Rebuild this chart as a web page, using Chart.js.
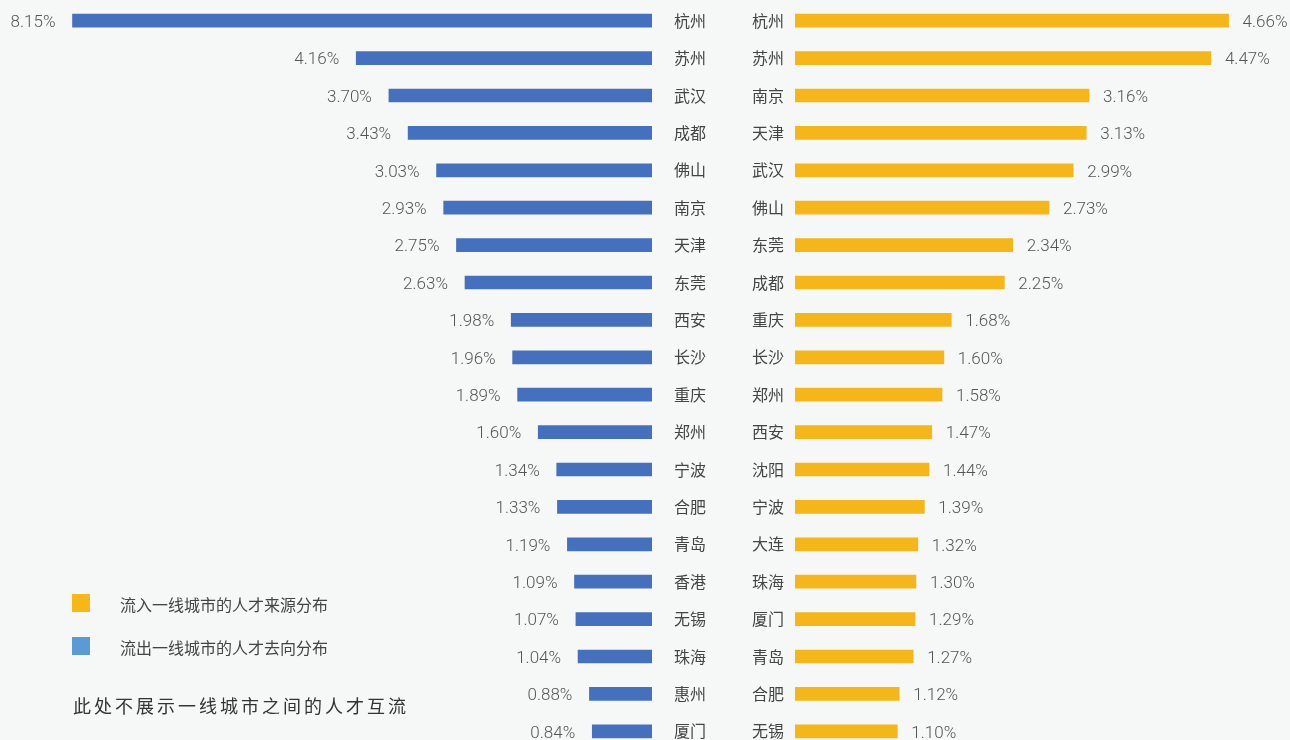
<!DOCTYPE html>
<html lang="zh-CN">
<head>
<meta charset="UTF-8">
<title>一线城市人才流动</title>
<script src="https://cdn.jsdelivr.net/npm/chart.js"></script>
<style>
  html, body { margin: 0; padding: 0; width: 1290px; height: 740px; overflow: hidden; background: #f6f8f8; }
  .panel { position: absolute; top: 2px; height: 748px; }
  #outWrap { left: 0; width: 728px; }
  #inWrap { left: 740px; width: 550px; }
  .legend { position: absolute; left: 72px; font: 16px "Noto Sans CJK SC", sans-serif; color: #444; }
  .legend span { position: absolute; left: 0; width: 18px; height: 18px; }
  .legend b { position: absolute; left: 48px; top: -2px; font-weight: 400; white-space: nowrap; }
  #note { position: absolute; left: 73px; top: 692px; font: 18px "Noto Sans CJK SC", sans-serif; letter-spacing: 3px; color: #333; white-space: nowrap; }
</style>
</head>
<body>
  <div class="panel" id="outWrap"><canvas id="outChart"></canvas></div>
  <div class="panel" id="inWrap"><canvas id="inChart"></canvas></div>

  <div class="legend" style="top:594px"><span style="background:#f6b718"></span><b>流入一线城市的人才来源分布</b></div>
  <div class="legend" style="top:637px"><span style="background:#5b9bd5"></span><b>流出一线城市的人才去向分布</b></div>
  <div id="note">此处不展示一线城市之间的人才互流</div>

<script>
  // 流出一线城市的人才去向 (%)
  const outCities = ["杭州", "苏州", "武汉", "成都", "佛山", "南京", "天津", "东莞", "西安", "长沙",
                     "重庆", "郑州", "宁波", "合肥", "青岛", "香港", "无锡", "珠海", "惠州", "厦门"];
  const outValues = [8.15, 4.16, 3.70, 3.43, 3.03, 2.93, 2.75, 2.63, 1.98, 1.96,
                     1.89, 1.60, 1.34, 1.33, 1.19, 1.09, 1.07, 1.04, 0.88, 0.84];

  // 流入一线城市的人才来源 (%)
  const inCities = ["杭州", "苏州", "南京", "天津", "武汉", "佛山", "东莞", "成都", "重庆", "长沙",
                    "郑州", "西安", "沈阳", "宁波", "大连", "珠海", "厦门", "青岛", "合肥", "无锡"];
  const inValues = [4.66, 4.47, 3.16, 3.13, 2.99, 2.73, 2.34, 2.25, 1.68, 1.60,
                    1.58, 1.47, 1.44, 1.39, 1.32, 1.30, 1.29, 1.27, 1.12, 1.10];

  const valueFont = '300 17px Roboto, "Liberation Sans", sans-serif';
  const cityFont = { family: '"Noto Sans CJK SC", sans-serif', size: 16 };

  // prints "x.xx%" next to the free end of every bar
  const valueLabels = {
    id: "valueLabels",
    afterDatasetsDraw(chart, args, opts) {
      const ctx = chart.ctx;
      const meta = chart.getDatasetMeta(0);
      ctx.save();
      ctx.font = valueFont;
      ctx.fillStyle = "#555";
      ctx.textBaseline = "middle";
      meta.data.forEach((bar, i) => {
        const v = chart.data.datasets[0].data[i].toFixed(2) + "%";
        if (opts.side === "left") {
          ctx.textAlign = "right";
          ctx.fillText(v, bar.x - 17, bar.y + 2);
        } else {
          ctx.textAlign = "left";
          ctx.fillText(v, bar.x + 14, bar.y + 2);
        }
      });
      ctx.restore();
    }
  };

  function makeChart(id, labels, values, color, side, max, axisWidth, labelGap) {
    return new Chart(document.getElementById(id), {
      type: "bar",
      data: {
        labels: labels,
        datasets: [{ data: values, backgroundColor: color, barThickness: 13 }]
      },
      options: {
        indexAxis: "y",
        responsive: true,
        maintainAspectRatio: false,
        animation: false,
        layout: { padding: 0 },
        scales: {
          x: { display: false, min: 0, max: max, reverse: side === "left" },
          y: {
            position: side === "left" ? "right" : "left",
            grid: { display: false, drawTicks: false },
            border: { display: false },
            ticks: { font: cityFont, color: "#444", padding: labelGap },
            afterFit(scale) {
              // fixed axis width, and rows spread over the full height
              scale.width = axisWidth;
              scale.paddingTop = 0;
              scale.paddingBottom = 0;
            }
          }
        },
        plugins: {
          legend: { display: false },
          tooltip: { enabled: false },
          valueLabels: { side: side }
        }
      },
      plugins: [valueLabels]
    });
  }

  makeChart("outChart", outCities, outValues, "#4470be", "left", 9.17, 76, 22);
  makeChart("inChart", inCities, inValues, "#f5b61a", "right", 5.32, 55, 11);
</script>
</body>
</html>
